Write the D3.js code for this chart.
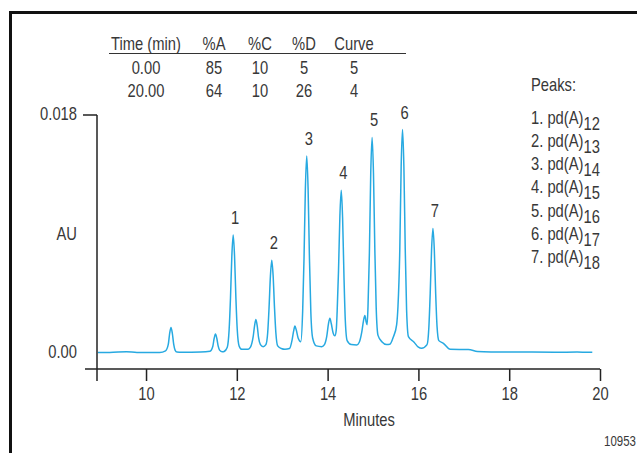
<!DOCTYPE html>
<html>
<head>
<meta charset="utf-8">
<script src="https://cdn.jsdelivr.net/npm/d3@7"></script>
<style>
  html, body { margin: 0; padding: 0; background: #fff; }
  svg { display: block; }
  text { font-family: "Liberation Sans Narrow", "Liberation Sans", Arial, sans-serif; fill: #383838; }
</style>
</head>
<body>
<svg id="chart" width="637" height="453"></svg>
<script>
// ---------- data ----------
const tableHeader = ["Time (min)", "%A", "%C", "%D", "Curve"];
const tableRow1 = ["0.00", "85", "10", "5", "5"];
const tableRow2 = ["20.00", "64", "10", "26", "4"];

const peakNumbers = ["1", "2", "3", "4", "5", "6", "7"];
const peakNames = ["12", "13", "14", "15", "16", "17", "18"];   // subscripts of pd(A)n
const peakTimes = [11.92, 12.77, 13.54, 14.30, 14.98, 15.65, 16.32];
const peakHeights = [0.0089, 0.0070, 0.0149, 0.0123, 0.0163, 0.0169, 0.0094];

const xTicks = [10, 12, 14, 16, 18, 20];
const yTickLabels = ["0.00", "0.018"];
const yTickValues = [0, 0.018];

// chromatogram trace, minutes
const traceTime = [
  8.94, 9.2, 9.57, 9.8, 10.3,
  10.43, 10.49, 10.52, 10.55, 10.58, 10.61, 10.64, 10.68,
  11.0, 11.2,
  11.41, 11.47, 11.50, 11.53, 11.56, 11.59, 11.62, 11.68, 11.72,
  11.79, 11.83, 11.86, 11.89, 11.92, 11.95, 11.98, 12.01, 12.05, 12.11,
  12.25, 12.30, 12.36, 12.39, 12.42, 12.45, 12.48, 12.52, 12.58,
  12.64, 12.68, 12.71, 12.74, 12.77, 12.80, 12.83, 12.86, 12.90, 12.98, 13.06,
  13.16, 13.22, 13.25, 13.28, 13.31, 13.35, 13.41,
  13.45, 13.48, 13.51, 13.54, 13.57, 13.60, 13.63, 13.67, 13.75, 13.87,
  13.93, 13.98, 14.02, 14.05, 14.08, 14.12, 14.16,
  14.19, 14.21, 14.24, 14.27, 14.30, 14.33, 14.36, 14.39, 14.43, 14.52, 14.64,
  14.70, 14.75, 14.79, 14.82, 14.85, 14.87,
  14.89, 14.92, 14.95, 14.98, 15.01, 15.04, 15.07, 15.11, 15.20, 15.30, 15.37,
  15.45, 15.52,
  15.55, 15.59, 15.62, 15.65, 15.68, 15.71, 15.74, 15.78, 15.90, 16.00, 16.07,
  16.19, 16.23, 16.26, 16.29, 16.32, 16.35, 16.38, 16.41, 16.45, 16.55, 16.70,
  16.9, 17.1, 17.3, 17.6, 18.0, 18.5, 19.0, 19.5, 19.83
];
// absorbance, AU
const traceAU = [
  0.00000, 0.00000, 0.00006, 0.00000, 0.00000,
  0.00013, 0.00061, 0.00144, 0.00190, 0.00144, 0.00061, 0.00018, 0.00003,
  0.00002, 0.00003,
  0.00010, 0.00045, 0.00106, 0.00140, 0.00106, 0.00048, 0.00018, 0.00005, 0.00008,
  0.00040, 0.00170, 0.00410, 0.00730, 0.00890, 0.00730, 0.00410, 0.00170, 0.00050, 0.00024,
  0.00025, 0.00040, 0.00120, 0.00200, 0.00250, 0.00200, 0.00110, 0.00060, 0.00044,
  0.00060, 0.00150, 0.00340, 0.00580, 0.00700, 0.00580, 0.00340, 0.00150, 0.00050, 0.00030, 0.00024,
  0.00030, 0.00100, 0.00160, 0.00200, 0.00170, 0.00110, 0.00082,
  0.00310, 0.00710, 0.01240, 0.01490, 0.01240, 0.00710, 0.00310, 0.00110, 0.00050, 0.00044,
  0.00060, 0.00120, 0.00220, 0.00260, 0.00220, 0.00150, 0.00127,
  0.00170, 0.00310, 0.00620, 0.01030, 0.01230, 0.01020, 0.00580, 0.00240, 0.00090, 0.00060, 0.00057,
  0.00080, 0.00150, 0.00240, 0.00280, 0.00230, 0.00210,
  0.00350, 0.00750, 0.01360, 0.01630, 0.01360, 0.00780, 0.00340, 0.00130, 0.00080, 0.00060, 0.00062,
  0.00120, 0.00210,
  0.00350, 0.00780, 0.01410, 0.01690, 0.01410, 0.00780, 0.00320, 0.00120, 0.00080, 0.00040, 0.00032,
  0.00060, 0.00190, 0.00450, 0.00780, 0.00940, 0.00780, 0.00450, 0.00200, 0.00090, 0.00070, 0.00024,
  0.00023, 0.00023, 0.00008, 0.00004, 0.00003, 0.00003, 0.00002, 0.00003, 0.00002
];

// ---------- drawing ----------
const svg = d3.select("#chart");
const FS = 18;
const SX = 0.82; // horizontal condensation to mimic a narrow face

function label(parent, px, py, str, anchor, size) {
  return parent.append("text")
    .attr("transform", `translate(${px},${py}) scale(${SX},1)`)
    .attr("text-anchor", anchor || "start")
    .attr("font-size", size || FS)
    .text(str);
}

// frame
svg.append("rect")
  .attr("x", 10.5).attr("y", 12.5)
  .attr("width", 700).attr("height", 500)
  .attr("fill", "none").attr("stroke", "#111").attr("stroke-width", 3);

const x = d3.scaleLinear().domain([8.92, 20]).range([97, 600]);
const y = d3.scaleLinear().domain([0, 0.018]).range([352.5, 115]);
const axisY = 369;

// trace
const pts = traceTime.map((t, i) => [t, traceAU[i]]);
svg.append("path")
  .datum(pts)
  .attr("fill", "none")
  .attr("stroke", "#27a9e1")
  .attr("stroke-width", 1.5)
  .attr("stroke-linejoin", "round")
  .attr("d", d3.line().x(d => x(d[0])).y(d => y(d[1])).curve(d3.curveMonotoneX));

// x axis
const xAxis = d3.axisBottom(x).tickValues(xTicks).tickSize(12).tickSizeOuter(0).tickPadding(6)
  .tickFormat(d3.format("d"));
const gx = svg.append("g").attr("transform", `translate(0,${axisY})`).call(xAxis);
gx.select(".domain").remove();
gx.selectAll(".tick line").attr("stroke", "#222").attr("stroke-width", 1.5);
gx.selectAll(".tick text").attr("font-size", FS).attr("font-family", null).attr("fill", "#383838")
  .attr("transform", `scale(${SX},1)`);
svg.append("line")
  .attr("x1", 85).attr("x2", x(20)).attr("y1", axisY).attr("y2", axisY)
  .attr("stroke", "#222").attr("stroke-width", 1.5);

// y axis
svg.append("line")
  .attr("x1", x(8.92)).attr("x2", x(8.92))
  .attr("y1", y(0.018)).attr("y2", axisY + 12)
  .attr("stroke", "#222").attr("stroke-width", 1.5);
svg.append("line")
  .attr("x1", x(8.92) - 14).attr("x2", x(8.92))
  .attr("y1", y(0.018)).attr("y2", y(0.018))
  .attr("stroke", "#222").attr("stroke-width", 1.5);
yTickValues.forEach((v, i) => label(svg, 77, y(v) + 5, yTickLabels[i], "end"));

label(svg, 77, 240, "AU", "end");
label(svg, 369, 426, "Minutes", "middle");
label(svg, 636, 446, "10953", "end", 14);

// peak labels
peakTimes.forEach((t, i) => label(svg, x(t) + 2, y(peakHeights[i]) - 11, peakNumbers[i], "middle"));

// gradient table
const colX = [146, 214, 260, 304, 354];
const rows = [tableHeader, tableRow1, tableRow2];
const rowY = [50, 74, 97];
rows.forEach((r, ri) => r.forEach((d, i) => label(svg, colX[i], rowY[ri], d, "middle")));
svg.append("line").attr("x1", 109).attr("x2", 406).attr("y1", 53.5).attr("y2", 53.5)
  .attr("stroke", "#333").attr("stroke-width", 1.2);

// peaks legend
label(svg, 531, 91, "Peaks:");
peakNames.forEach((n, i) => {
  const t = label(svg, 531, 123.5 + i * 23.3, `${peakNumbers[i]}. pd(A)`);
  t.append("tspan").attr("dy", 6).text(n);
});
</script>
</body>
</html>
